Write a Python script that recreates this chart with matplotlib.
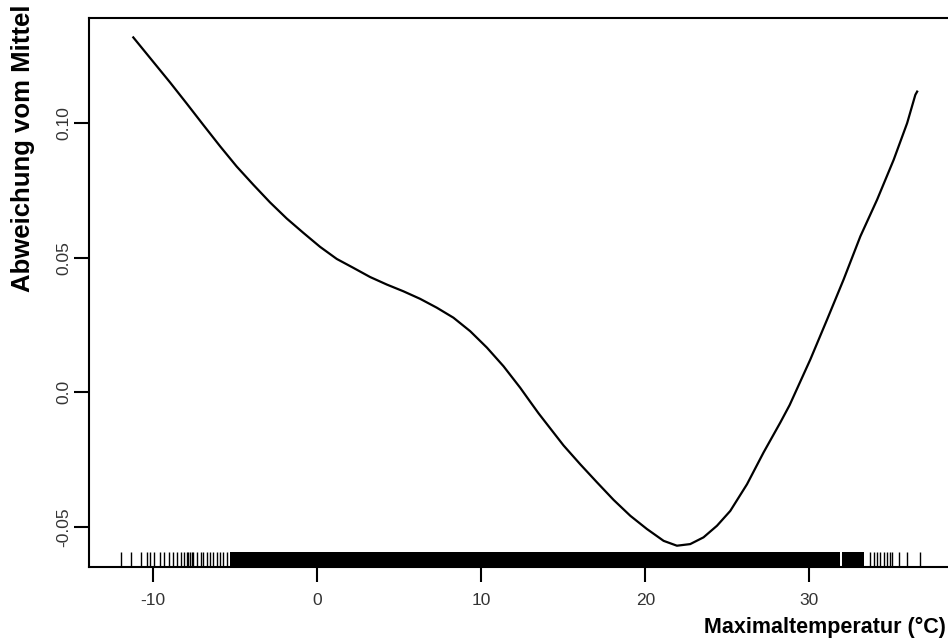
import numpy as np
import matplotlib
matplotlib.use("Agg")
from matplotlib import pyplot as plt

plt.rcParams['font.family'] = ['Liberation Sans', 'DejaVu Sans']

# Smooth term
temp = [-11.20, -9.98, -8.96, -7.95, -6.93, -5.91, -4.90, -3.88, -2.87, -1.85,
        -0.84, 0.18, 1.20, 2.21, 3.23, 4.25, 5.26, 6.28, 7.30, 8.31,
        9.33, 10.35, 11.36, 12.38, 12.99, 13.50, 14.01, 15.02, 16.04, 17.06,
        18.07, 19.09, 20.10, 21.12, 21.93, 22.74, 23.55, 24.37, 25.18, 26.20,
        27.21, 28.23, 28.80, 30.06, 31.08, 32.09, 33.11, 34.13, 35.14, 35.96,
        36.46, 36.57]
effect = [0.1317, 0.1226, 0.1150, 0.1072, 0.0992, 0.0913, 0.0838, 0.0770, 0.0705, 0.0645,
          0.0592, 0.0540, 0.0495, 0.0462, 0.0428, 0.0400, 0.0375, 0.0347, 0.0314, 0.0277,
          0.0227, 0.0166, 0.0097, 0.0017, -0.0035, -0.0078, -0.0118, -0.0197, -0.0267, -0.0334,
          -0.0399, -0.0458, -0.0507, -0.0551, -0.0569, -0.0563, -0.0538, -0.0495, -0.0440, -0.0341,
          -0.0223, -0.0112, -0.0047, 0.0122, 0.0270, 0.0419, 0.0579, 0.0715, 0.0863, 0.0999,
          0.1104, 0.1116]

# rug: single observations in the tails, solid band where data are dense
rug_left = [-11.95, -11.36, -10.75, -10.38, -10.18, -9.92, -9.57, -9.33, -9.04, -8.76,
            -8.55, -8.31, -8.11, -7.95, -7.85, -7.75, -7.65, -7.54, -7.30, -7.09,
            -6.93, -6.73, -6.52, -6.32, -6.12, -5.91, -5.71, -5.47]
rug_right = [33.72, 33.92, 34.13, 34.33, 34.53, 34.74, 34.94, 35.04, 35.45, 35.96, 36.73]
rug_dense = [(-5.30, 31.85), (32.00, 33.31)]

xticks = [-10, 0, 10, 20, 30]
yticks = [-0.05, 0.0, 0.05, 0.10]
ytick_labels = ['-0.05', '0.0', '0.05', '0.10']

fig = plt.figure(figsize=(9.48, 6.41), dpi=100)
ax = fig.add_axes([89 / 948, 74 / 641, 1 - 89 / 948, 549 / 641])

ax.plot(temp, effect, color='black', lw=1.6)

rug_h = 15 / 549
trans = ax.get_xaxis_transform()
ax.vlines(rug_left + rug_right, 0, rug_h, transform=trans, color='black', lw=1.0)
ax.broken_barh([(a, b - a) for a, b in rug_dense], (0, rug_h), transform=trans,
               facecolor='black', edgecolor='none')

ax.set_xlim(-13.9, 38.45)
ax.set_ylim(-0.0648, 0.1389)
ax.spines['right'].set_visible(False)
for s in ['left', 'top', 'bottom']:
    ax.spines[s].set_linewidth(1.5)

ax.set_xticks(xticks)
ax.set_xticklabels([str(t) for t in xticks])
ax.set_yticks(yticks)
ax.set_yticklabels(ytick_labels, rotation=90, va='center')
ax.tick_params(axis='both', length=11, width=1.5, labelsize=12.5,
               labelcolor='#333333')
ax.tick_params(axis='x', pad=8)
ax.tick_params(axis='y', pad=2)

fig.text(946 / 948, 1 - 627 / 641, 'Maximaltemperatur (°C)', ha='right', va='center',
         fontsize=15.5, fontweight='bold')
fig.text(23 / 948, 1 - 5 / 641, 'Abweichung vom Mittel', ha='center', va='top',
         rotation=90, fontsize=18.5, fontweight='bold')

fig.savefig('out.png', dpi=100)
